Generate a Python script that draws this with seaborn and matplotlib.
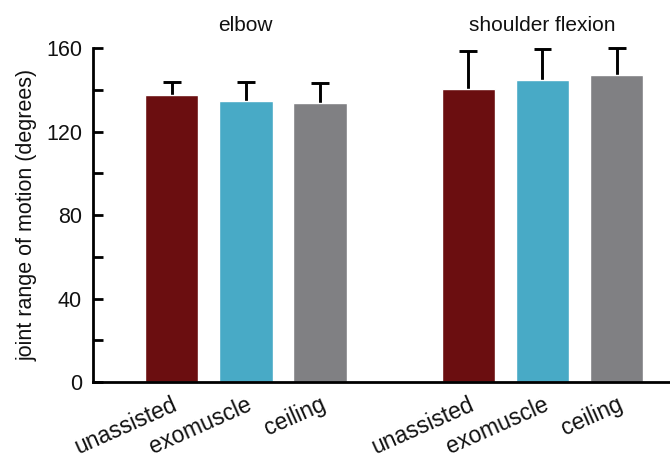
"""Joint range of motion per condition, elbow vs shoulder flexion."""

import matplotlib
matplotlib.use("Agg")
import matplotlib.pyplot as plt
import pandas as pd
import seaborn as sns

# ---------------------------------------------------------------------------
# Data
# ---------------------------------------------------------------------------
GROUPS = ["elbow", "shoulder flexion"]
CONDITIONS = ["unassisted", "exomuscle", "ceiling"]
ELBOW_MEAN = [137.5, 134.6, 133.7]
ELBOW_SD = [6.2, 9.1, 9.5]
SHOULDER_MEAN = [140.4, 144.7, 147.1]
SHOULDER_SD = [18.2, 14.8, 12.9]
COLORS = ["#6b0e10", "#48aac6", "#808083"]

sns.set_theme(style="white")
plt.rcParams["font.family"] = ["Liberation Sans", "DejaVu Sans"]
plt.rcParams.update({
    "text.color": "#111111",
    "axes.labelcolor": "#111111",
    "xtick.color": "#111111",
    "ytick.color": "#111111",
})

# one blank slot between the two groups
slots = [f"e_{c}" for c in CONDITIONS] + ["gap"] + [f"s_{c}" for c in CONDITIONS]
df = pd.DataFrame({
    "slot": [f"e_{c}" for c in CONDITIONS] + [f"s_{c}" for c in CONDITIONS],
    "cond": CONDITIONS * 2,
    "mean": ELBOW_MEAN + SHOULDER_MEAN,
    "sd": ELBOW_SD + SHOULDER_SD,
})
df["top"] = df["mean"] + df["sd"]

fig = plt.figure(figsize=(6.7, 4.58), dpi=100)
ax = fig.add_axes([0.139, 0.166, 0.861, 0.729])

sns.barplot(
    data=df, x="slot", y="mean", hue="cond", order=slots,
    hue_order=CONDITIONS, palette=COLORS, dodge=False, saturation=1,
    width=0.72, errorbar=None, legend=False, ax=ax,
)

# upper-only error bars (stem + cap)
xpos = [slots.index(s) for s in df["slot"]]
ax.vlines(xpos, df["mean"], df["top"], color="black", linewidth=2.1,
          zorder=0, clip_on=False)
ax.hlines(df["top"], [x - 0.12 for x in xpos], [x + 0.12 for x in xpos],
          color="black", linewidth=2.1, zorder=0, clip_on=False)

ax.set_ylim(0, 160)
ax.set_xlim(-1.06, 6.72)
ax.set_yticks([0, 40, 80, 120, 160])
ax.set_yticks([20, 60, 100, 140], minor=True)
ax.set_xticks(xpos)
ax.set_xticklabels(df["cond"], rotation=24, ha="right", rotation_mode="anchor")
ax.tick_params(axis="y", which="both", direction="in", length=7, width=2,
               left=True, labelsize=15.5, pad=8, color="black")
ax.tick_params(axis="x", length=0, labelsize=16.5, pad=8)
ax.set_xlabel("")
ax.set_ylabel("joint range of motion (degrees)", fontsize=15.5, labelpad=6)

for side in ["top", "right"]:
    ax.spines[side].set_visible(False)
for side in ["left", "bottom"]:
    ax.spines[side].set_linewidth(2)
    ax.spines[side].set_color("black")

# group titles above each set of bars
for i, name in enumerate(GROUPS):
    ax.text(1 + 4 * i, 171, name, ha="center", va="center", fontsize=15)

fig.savefig("out.png", dpi=100)
